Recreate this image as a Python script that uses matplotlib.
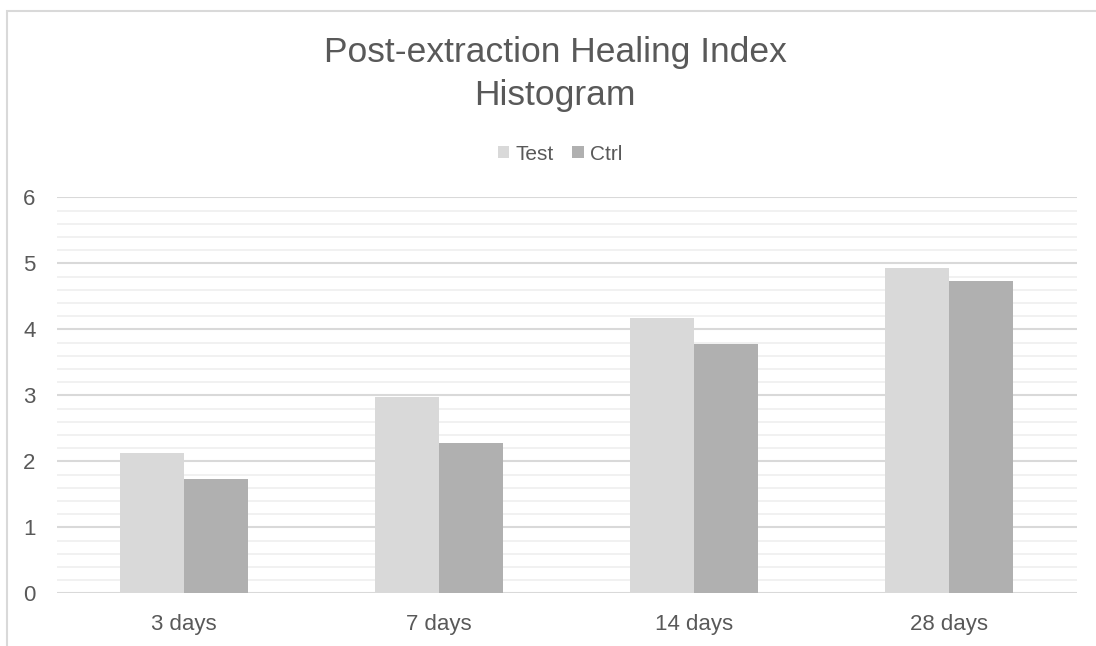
import matplotlib
matplotlib.use("Agg")
import matplotlib.pyplot as plt
from matplotlib.patches import Rectangle
from matplotlib.ticker import MultipleLocator
import numpy as np

# Data
categories = ["3 days", "7 days", "14 days", "28 days"]
test_values = [2.13, 2.98, 4.17, 4.93]
ctrl_values = [1.73, 2.28, 3.77, 4.73]
series_names = ["Test", "Ctrl"]
y_ticks = [0, 1, 2, 3, 4, 5, 6]

TEXT = "#595959"
plt.rcParams["font.family"] = ["Liberation Sans", "DejaVu Sans"]

W, H = 1096, 646
fig = plt.figure(figsize=(W / 100, H / 100), dpi=100)

# Axes placement (pixels -> figure fraction)
left, right, top, bottom = 56.5, 1076.5, 197.3, 593.3
ax = fig.add_axes([left / W, 1 - bottom / H, (right - left) / W, (bottom - top) / H])

x = np.arange(len(categories))
bw = 0.25
ax.bar(x - bw / 2, test_values, width=bw, color="#d9d9d9", label=series_names[0], zorder=3)
ax.bar(x + bw / 2, ctrl_values, width=bw, color="#b0b0b0", label=series_names[1], zorder=3)

ax.set_xlim(-0.5, len(categories) - 0.5)
ax.set_ylim(0, 6)
ax.set_yticks(y_ticks)
ax.yaxis.set_minor_locator(MultipleLocator(0.2))
ax.set_xticks(x)
ax.set_xticklabels(categories)

ax.grid(axis="y", which="major", color="#d9d9d9", linewidth=1.5, zorder=0)
ax.grid(axis="y", which="minor", color="#f0f0f0", linewidth=1.3, zorder=0)
for s in ax.spines.values():
    s.set_visible(False)
ax.tick_params(axis="both", which="both", length=0, colors=TEXT, labelsize=16)
ax.tick_params(axis="y", pad=15)
ax.tick_params(axis="x", pad=15)

# Title
fig.text(555 / W, 1 - 74 / H, "Post-extraction Healing Index\nHistogram",
         ha="center", va="center", fontsize=25.5, color=TEXT, linespacing=1.38)

# Legend
leg = fig.legend(loc="center", bbox_to_anchor=(560 / W, 1 - 154 / H), ncol=2,
                 frameon=False, fontsize=15, handlelength=0.55, handleheight=0.55,
                 handletextpad=0.3, columnspacing=0.9, labelcolor=TEXT)

# Chart frame
fig.add_artist(Rectangle((7.3 / W, -0.1), 1.2, 1 - 10.7 / H + 0.1,
                         transform=fig.transFigure, fill=False,
                         edgecolor="#d9d9d9", linewidth=1.5))

fig.savefig("out.png", dpi=100, facecolor="white")
